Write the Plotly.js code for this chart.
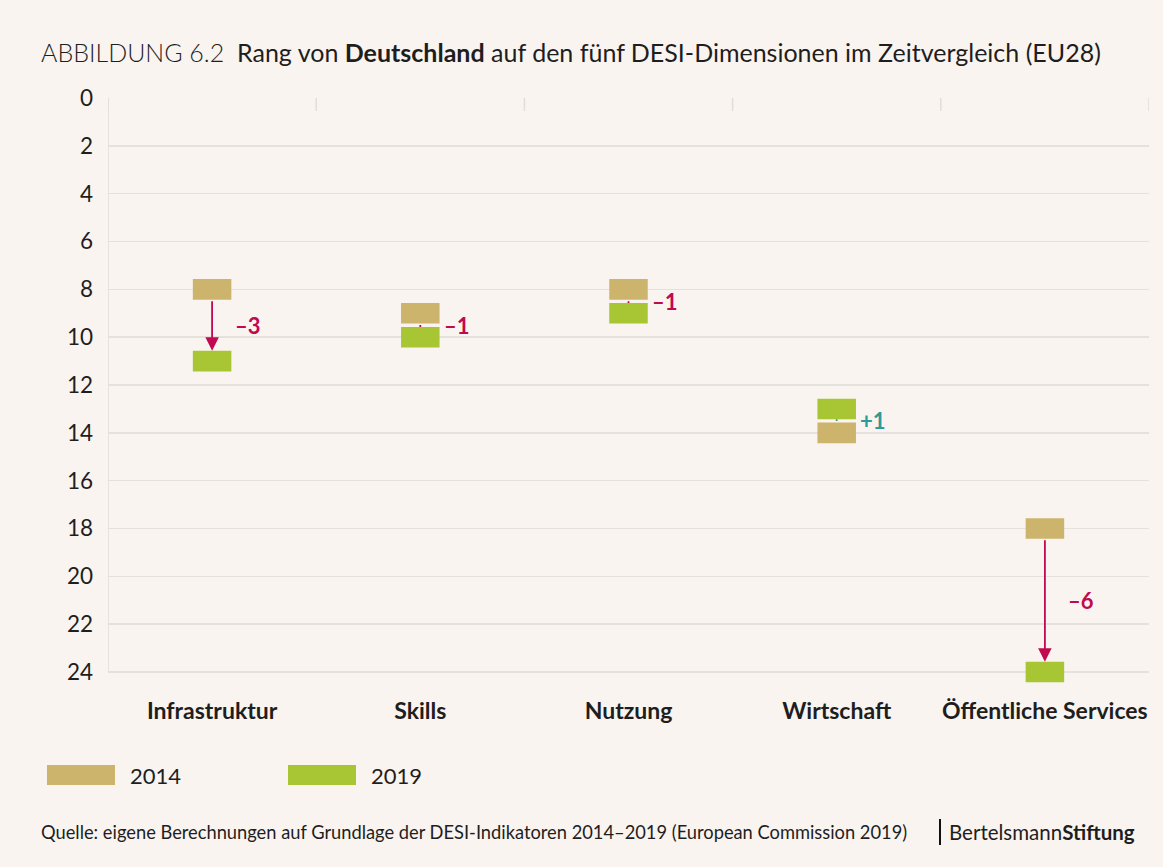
<!DOCTYPE html>
<html><head><meta charset="utf-8">
<script src="https://cdn.plot.ly/plotly-3.0.1.min.js"></script>
<style>html,body{margin:0;padding:0;background:#faf4f0;}#chart{width:1163px;height:867px;}</style>
</head><body><div id="chart"></div>
<script>
const categories = ["Infrastruktur", "Skills", "Nutzung", "Wirtschaft", "Öffentliche Services"];
const rank2014 = [8, 9, 8, 14, 18];
const rank2019 = [11, 10, 9, 13, 24];
const years = ["2014", "2019"];
const yTicks = [0, 2, 4, 6, 8, 10, 12, 14, 16, 18, 20, 22, 24];

const W = 1163, H = 867;
const M = {l: 108, r: 14, t: 98, b: 183};
const PW = W - M.l - M.r, PH = H - M.t - M.b;
const px = p => (p - M.l) / PW;        // pixel x -> paper
const py = p => (H - M.b - p) / PH;    // pixel y -> paper

const C14 = '#cdb46d', C19 = '#a8c633', RED = '#c0094f', TEAL = '#2b9c9c';
const BOX_H = 0.86, BOX_W = 0.185;
const FONT = 'Lato, "Open Sans", sans-serif';

const idx = categories.map((_, i) => i);
function barTrace(vals, color, name) {
  return {
    type: 'bar', x: idx, y: vals.map(() => BOX_H), base: vals.map(v => v - BOX_H / 2),
    width: BOX_W, marker: {color: color, line: {width: 0}}, name: name,
    hoverinfo: 'skip', showlegend: false
  };
}
const data = [barTrace(rank2014, C14, years[0]), barTrace(rank2019, C19, years[1])];

const annotations = [];
const shapes = [];

categories.forEach((c, i) => {
  const a = rank2014[i], b = rank2019[i];
  const diff = a - b;
  const dir = Math.sign(b - a);
  const col = diff < 0 ? RED : TEAL;
  const tailY = a + dir * BOX_H / 2;
  const headY = b - dir * BOX_H / 2;
  annotations.push({
    x: i, y: headY, ax: i, ay: tailY, xref: 'x', yref: 'y', axref: 'x', ayref: 'y',
    showarrow: true, text: '', arrowcolor: col, arrowwidth: 1.8,
    arrowhead: Math.abs(diff) > 1 ? 2 : 0, arrowsize: 1.5, standoff: 0, startstandoff: 0
  });
  const label = (diff < 0 ? '\u2013' : '+') + Math.abs(diff);
  annotations.push({
    x: i + BOX_W / 2, y: (a + b) / 2, xref: 'x', yref: 'y', xanchor: 'left', yanchor: 'middle',
    xshift: 2, showarrow: false, text: '<b>' + label + '</b>',
    font: {family: FONT, size: 22, color: col}
  });
});

// category divider ticks at top + left frame line
for (let k = 0; k <= categories.length; k++) {
  shapes.push({type: 'line', xref: 'x', yref: 'paper', x0: k - 0.5, x1: k - 0.5,
    y0: 1, y1: py(M.t + 13), line: {color: '#e2ddd8', width: 1.5}});
}
shapes.push({type: 'line', xref: 'x', yref: 'y', x0: -0.5, x1: -0.5, y0: 0, y1: 24,
  line: {color: '#e2ddd8', width: 1.5}});

// title
annotations.push({
  xref: 'paper', yref: 'paper', x: px(39), y: py(52), xanchor: 'left', yanchor: 'middle', showarrow: false,
  text: '<span style="font-weight:300">ABBILDUNG 6.2</span>  Rang von <b>Deutschland</b> auf den fünf DESI-Dimensionen im Zeitvergleich (EU28)',
  font: {family: FONT, size: 25, color: '#1e1e1e'}
});

// legend
const legendItems = [{name: years[0], color: C14, x: 47}, {name: years[1], color: C19, x: 288}];
legendItems.forEach(it => {
  shapes.push({type: 'rect', xref: 'paper', yref: 'paper', x0: px(it.x), x1: px(it.x + 68),
    y0: py(785), y1: py(765), fillcolor: it.color, line: {width: 0}});
  annotations.push({xref: 'paper', yref: 'paper', x: px(it.x + 81), y: py(775), xanchor: 'left',
    yanchor: 'middle', showarrow: false, text: it.name, font: {family: FONT, size: 22, color: '#1e1e1e'}});
});

// source + logo
annotations.push({xref: 'paper', yref: 'paper', x: px(39), y: py(832), xanchor: 'left', yanchor: 'middle',
  showarrow: false, text: 'Quelle: eigene Berechnungen auf Grundlage der DESI-Indikatoren 2014\u20132019 (European Commission 2019)',
  font: {family: FONT, size: 18.3, color: '#1e1e1e'}});
shapes.push({type: 'line', xref: 'paper', yref: 'paper', x0: px(940), x1: px(940), y0: py(845), y1: py(819),
  line: {color: '#111', width: 2}});
annotations.push({xref: 'paper', yref: 'paper', x: px(947), y: py(832), xanchor: 'left', yanchor: 'middle',
  showarrow: false, text: 'Bertelsmann<b>Stiftung</b>', font: {family: FONT, size: 20.5, color: '#1e1e1e'}});

const layout = {
  width: W, height: H, margin: M,
  paper_bgcolor: '#faf4f0', plot_bgcolor: '#faf4f0',
  font: {family: FONT, color: '#1e1e1e'},
  showlegend: false, barmode: 'overlay',
  xaxis: {range: [-0.5, 4.5], tickvals: idx, ticktext: categories.map(c => '<b>' + c + '</b>'),
    showgrid: false, zeroline: false, showline: false, ticks: '', ticklabelstandoff: 11,
    tickfont: {family: FONT, size: 23, color: '#1e1e1e'}, fixedrange: true},
  yaxis: {range: [24.5, 0], tickvals: yTicks, showgrid: true, gridcolor: '#e5e1dc', gridwidth: 1.5,
    zeroline: false, showline: false, ticks: '', ticklabelstandoff: 14,
    tickfont: {family: FONT, size: 22.5, color: '#1e1e1e'}, fixedrange: true},
  annotations: annotations, shapes: shapes
};
Plotly.newPlot('chart', data, layout, {displayModeBar: false, staticPlot: true});
</script></body></html>
